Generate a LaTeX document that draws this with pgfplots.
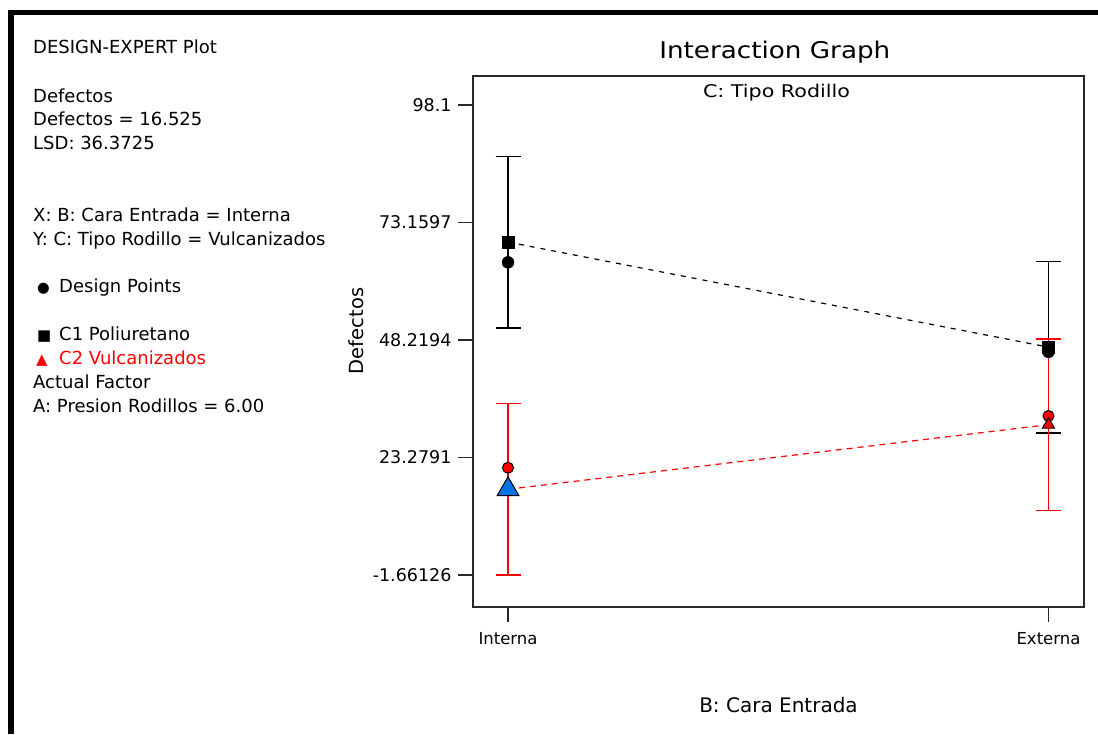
\documentclass[border=0pt]{standalone}
\usepackage{pgfplots}
\pgfplotsset{compat=1.18}
\usepackage{fontspec}
\setmainfont{DejaVu Sans}

\definecolor{framegray}{RGB}{40,40,40}
\definecolor{hiblue}{RGB}{0,115,230}
\definecolor{dered}{RGB}{255,0,0}

\newcommand{\fs}[1]{\fontsize{#1}{#1}\selectfont}

\begin{document}
\begin{tikzpicture}
\path[use as bounding box] (0pt,0pt) rectangle (1098pt,734pt);
% outer window frame (top and left edges)
\fill[black] (8pt,0pt) rectangle (13.5pt,724pt);
\fill[black] (8pt,718.5pt) rectangle (1098pt,724pt);

% information panel
\begin{scope}[every node/.style={anchor=base west, inner sep=0pt, font=\fs{18}}]
\node at (33pt,680pt) {DESIGN-EXPERT Plot};
\node at (33pt,631pt) {Defectos};
\node at (33pt,608pt) {Defectos = 16.525};
\node at (33pt,584pt) {LSD: 36.3725};
\node at (33pt,512pt) {X: B: Cara Entrada = Interna};
\node at (33pt,488pt) {Y: C: Tipo Rodillo = Vulcanizados};
\node at (37pt,441pt) {\fs{14.5}●};
\node at (59pt,441pt) {Design Points};
\node at (37pt,393pt) {\fs{15}■};
\node at (59pt,393pt) {C1 Poliuretano};
\node[text=dered] at (36pt,369pt) {\fs{15}▲};
\node[text=dered] at (59pt,369pt) {C2 Vulcanizados};
\node at (33pt,345pt) {Actual Factor};
\node at (33pt,321pt) {A: Presion Rodillos = 6.00};
\end{scope}

\begin{axis}[
  at={(473pt,127pt)}, anchor=south west,
  scale only axis, width=611pt, height=530.5pt,
  xmin=-0.0648, xmax=1.0657,
  ymin=-8.46, ymax=104.15,
  axis line style={line width=2pt, framegray},
  tick style={line width=1.6pt, framegray},
  tick align=outside, major tick length=15pt,
  xtick pos=left, ytick pos=left,
  xtick={0,1}, xticklabels={Interna,Externa},
  ytick={-1.66126,23.2791,48.2194,73.1597,98.1},
  yticklabels={-1.66126,23.2791,48.2194,73.1597,98.1},
  xticklabel style={font=\fs{16.5}, yshift=-7pt},
  yticklabel style={font=\fs{17.5}, xshift=-3pt},
  xlabel={B: Cara Entrada},
  ylabel={Defectos},
  every axis x label/.style={at={(axis description cs:0.5,-0.1998)}, anchor=base, font=\fs{20}},
  every axis y label/.style={at={(axis description cs:-0.1915,0.5203)}, anchor=center, rotate=90, font=\fs{19.5}},
  clip=false,
]
% C1 Poliuretano: mean line with LSD bars
\addplot[black, line width=1.2pt, dash pattern=on 5pt off 6pt, mark=none,
  error bars/.cd, y dir=both, y explicit,
  error bar style={solid, line width=1.5pt, black},
  error mark options={solid, rotate=90, mark size=12.5pt, line width=1.5pt, black}]
  coordinates {(0,69.0) +- (0,18.186) (1,46.7) +- (0,18.186)};
% C2 Vulcanizados: mean line with LSD bars
\addplot[dered, line width=1.2pt, dash pattern=on 6pt off 5pt, mark=none,
  error bars/.cd, y dir=both, y explicit,
  error bar style={solid, line width=1.5pt, dered},
  error mark options={solid, rotate=90, mark size=12.5pt, line width=1.5pt, dered}]
  coordinates {(0,16.525) +- (0,18.186) (1,30.24) +- (0,18.186)};

% design points
\addplot[only marks, mark=*, mark size=6pt, black] coordinates {(0,64.7) (1,45.7)};
\addplot[only marks, mark=*, mark size=5.5pt, draw=black, fill=dered, line width=1pt] coordinates {(0,21.1) (1,32.1)};

% means
\addplot[only marks, mark=square*, mark size=6pt, black] coordinates {(0,69.0) (1,46.7)};
\addplot[only marks, mark=triangle*, mark size=7pt, draw=black, fill=dered, line width=1pt] coordinates {(1,30.24)};
\addplot[only marks, mark=triangle*, mark size=12.5pt, draw=black, fill=hiblue, line width=1pt] coordinates {(0,16.525)};

% titles
\node[anchor=base, font=\fs{23}, xscale=1.14] at (axis description cs:0.494,1.0330) {Interaction Graph};
\node[anchor=base, font=\fs{17.5}, xscale=1.18] at (axis description cs:0.4967,0.9613) {C: Tipo Rodillo};
\end{axis}
\end{tikzpicture}
\end{document}
